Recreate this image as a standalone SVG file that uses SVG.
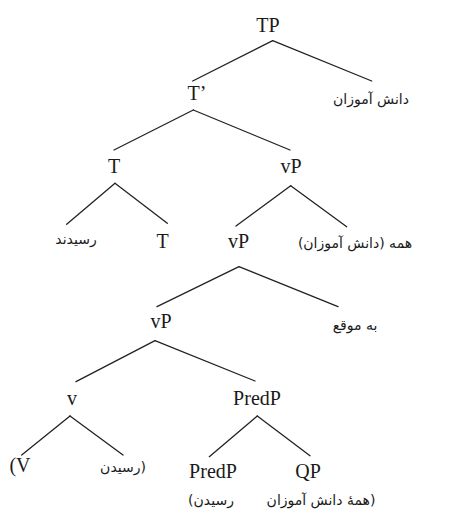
<svg xmlns="http://www.w3.org/2000/svg" width="475" height="510" viewBox="0 0 475 510">
<style>
.lat{font-family:"Liberation Serif","Times New Roman",serif;font-size:20px;fill:#1a1a1a;text-anchor:middle}
.fa{font-family:"DejaVu Sans","Noto Sans",sans-serif;font-size:14px;fill:#1a1a1a;text-anchor:middle}
.rtl{direction:rtl;unicode-bidi:embed}
#connectors line{stroke:#222;stroke-width:1.3;stroke-linecap:round}
</style>
<rect width="475" height="510" fill="#fff"/>
<g id="connectors">
<line x1="272.7" y1="40.7" x2="192.7" y2="81"/>
<line x1="272.7" y1="40.7" x2="371.7" y2="81"/>
<line x1="193.3" y1="110" x2="114" y2="150"/>
<line x1="193.3" y1="110" x2="290" y2="150"/>
<line x1="115" y1="183.3" x2="66.7" y2="224.3"/>
<line x1="115" y1="183.3" x2="167.3" y2="223.3"/>
<line x1="290.7" y1="185.7" x2="236" y2="226"/>
<line x1="290.7" y1="185.7" x2="346.7" y2="226.7"/>
<line x1="239" y1="266.7" x2="157" y2="306.7"/>
<line x1="239" y1="266.7" x2="338" y2="306.7"/>
<line x1="155" y1="340.7" x2="76" y2="381.7"/>
<line x1="155" y1="340.7" x2="255" y2="381"/>
<line x1="70" y1="416" x2="21.7" y2="455"/>
<line x1="70" y1="416" x2="123" y2="455"/>
<line x1="257.3" y1="416" x2="209.3" y2="456.7"/>
<line x1="257.3" y1="416" x2="310" y2="455.7"/>
</g>
<g id="TP"><text class="lat" x="268" y="32">TP</text></g>
<g id="Tbar"><text class="lat" x="197" y="100">T’</text></g>
<g id="spec-TP"><text class="fa rtl" x="371" y="104">دانش آموزان</text></g>
<g id="T"><text class="lat" x="114" y="173">T</text></g>
<g id="vP1"><text class="lat" x="291" y="173">vP</text></g>
<g id="V-T"><text class="fa rtl" x="76" y="244">رسیدند</text></g>
<g id="T2"><text class="lat" x="162.5" y="248">T</text></g>
<g id="vP2"><text class="lat" x="238.5" y="248">vP</text></g>
<g id="Q-float"><text class="fa rtl" x="355" y="248">همه (دانش آموزان)</text></g>
<g id="vP3"><text class="lat" x="161" y="328">vP</text></g>
<g id="adv"><text class="fa rtl" x="355" y="330">به موقع</text></g>
<g id="v"><text class="lat" x="72" y="405">v</text></g>
<g id="PredP"><text class="lat" x="257" y="405">PredP</text></g>
<g id="v-copy"><text class="lat" x="20" y="472">(V</text></g>
<g id="V-copy"><text class="fa rtl" x="123" y="472">(رسیدن</text></g>
<g id="PredP2"><text class="lat" x="213" y="478">PredP</text><text class="fa rtl" x="211" y="505">رسیدن)</text></g>
<g id="QP"><text class="lat" x="308" y="478">QP</text><text class="fa rtl" x="321" y="505">(همهٔ دانش آموزان</text></g>
</svg>
